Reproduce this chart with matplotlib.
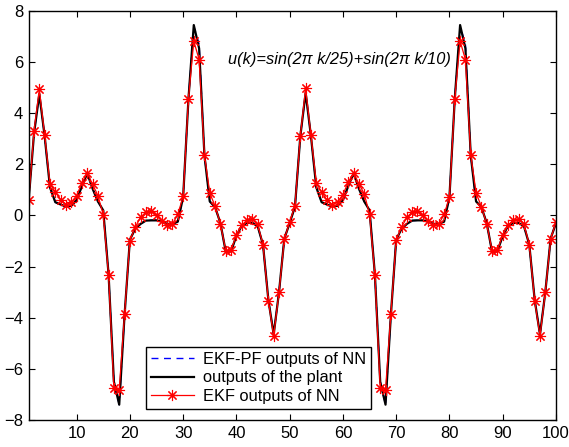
import matplotlib
matplotlib.use("Agg")
import matplotlib.pyplot as plt
import numpy as np

plt.rcParams['font.family'] = ['Liberation Sans', 'DejaVu Sans']

k = list(range(1, 101))

plant = [0.6, 3.2, 4.75, 3.1, 1.1, 0.52, 0.43, 0.35, 0.38, 0.6,
         1.15, 1.65, 1.05, 0.55, 0.2, -2.3, -6.5, -7.4, -3.9, -0.95,
         -0.52, -0.33, -0.2, -0.19, -0.19, -0.24, -0.33, -0.33, -0.24, 0.72,
         4.57, 7.45, 6.54, 2.35, 0.55, 0.33, -0.3, -1.42, -1.4, -0.8,
         -0.4, -0.29, -0.29, -0.42, -1.15, -3.3, -4.65, -3.0, -0.9, -0.3,
         0.35, 3.1, 4.8, 3.1, 1.1, 0.52, 0.43, 0.35, 0.38, 0.6,
         1.15, 1.65, 1.05, 0.55, 0.2, -2.3, -6.5, -7.4, -3.9, -0.95,
         -0.52, -0.33, -0.2, -0.19, -0.19, -0.24, -0.33, -0.33, -0.24, 0.72,
         4.57, 7.45, 6.54, 2.35, 0.55, 0.33, -0.3, -1.42, -1.4, -0.8,
         -0.4, -0.29, -0.29, -0.42, -1.15, -3.3, -4.65, -3.0, -0.9, -0.3]

ekfpf = [0.6, 3.2, 4.75, 3.1, 1.1, 0.52, 0.43, 0.35, 0.38, 0.6,
         1.15, 1.65, 1.05, 0.55, 0.2, -2.3, -6.5, -7.4, -3.9, -0.95,
         -0.52, -0.33, -0.2, -0.19, -0.19, -0.24, -0.33, -0.33, -0.24, 0.72,
         4.57, 7.4, 6.7, 2.35, 0.55, 0.33, -0.3, -1.42, -1.4, -0.8,
         -0.4, -0.29, -0.29, -0.42, -1.15, -3.3, -4.65, -3.0, -0.9, -0.3,
         0.35, 3.1, 4.8, 3.1, 1.1, 0.52, 0.43, 0.35, 0.38, 0.6,
         1.15, 1.65, 1.05, 0.55, 0.2, -2.3, -6.5, -7.4, -3.9, -0.95,
         -0.52, -0.33, -0.2, -0.19, -0.19, -0.24, -0.33, -0.33, -0.24, 0.72,
         4.57, 7.4, 6.7, 2.35, 0.55, 0.33, -0.3, -1.42, -1.4, -0.8,
         -0.4, -0.29, -0.29, -0.42, -1.15, -3.3, -4.65, -3.0, -0.9, -0.3]

ekf = [0.59, 3.31, 4.93, 3.14, 1.24, 0.92, 0.62, 0.42, 0.52, 0.78,
       1.27, 1.66, 1.22, 0.78, 0.03, -2.31, -6.76, -6.82, -3.86, -0.98,
       -0.46, -0.07, 0.13, 0.17, 0.0, -0.2, -0.39, -0.33, 0.04, 0.75,
       4.57, 6.82, 6.1, 2.38, 0.88, 0.37, -0.33, -1.37, -1.35, -0.76,
       -0.39, -0.17, -0.13, -0.35, -1.15, -3.33, -4.71, -3.01, -0.92, -0.26,
       0.39, 3.1, 4.97, 3.14, 1.27, 0.92, 0.6, 0.42, 0.52, 0.82,
       1.3, 1.67, 1.24, 0.85, 0.05, -2.31, -6.76, -6.82, -3.86, -0.96,
       -0.46, -0.07, 0.13, 0.17, 0.0, -0.22, -0.39, -0.33, 0.04, 0.72,
       4.57, 6.82, 6.1, 2.38, 0.88, 0.35, -0.33, -1.37, -1.35, -0.76,
       -0.39, -0.17, -0.13, -0.35, -1.15, -3.33, -4.71, -3.01, -0.92, -0.26]

xticks = [10, 20, 30, 40, 50, 60, 70, 80, 90, 100]
yticks = [-8, -6, -4, -2, 0, 2, 4, 6, 8]
labels = ['EKF-PF outputs of NN', 'outputs of the plant', 'EKF outputs of NN']
annotation = 'u(k)=sin(2\u03c0 k/25)+sin(2\u03c0 k/10)'

fig = plt.figure(figsize=(5.69, 4.47), dpi=100)
ax = fig.add_axes([0.0504, 0.0604, 0.9267, 0.9150])

ax.plot(k, ekfpf, color='#0000ff', linestyle='--', linewidth=1.0, label=labels[0], dashes=(5, 4))
ax.plot(k, plant, color='black', linewidth=1.6, label=labels[1])
ax.plot(k, ekf, color='red', linewidth=0.9, marker=(8, 2, 0), markersize=8,
        markeredgewidth=0.8, label=labels[2])

ax.set_xlim(1, 100)
ax.set_ylim(-8, 8)
ax.set_xticks(xticks)
ax.set_yticks(yticks)
ax.tick_params(direction='in', top=True, right=True, length=4, width=0.8,
               labelsize=12, pad=4)
for s in ax.spines.values():
    s.set_linewidth(1.0)

ax.text(38.5, 6.1, annotation, fontsize=11.8, style='italic', ha='left', va='center')

leg = ax.legend(loc='lower left', bbox_to_anchor=(0.2225, 0.027), borderaxespad=0,
                fontsize=11.8, frameon=True, fancybox=False, framealpha=1,
                edgecolor='black', handlelength=2.6, borderpad=0.3,
                labelspacing=0.22, handletextpad=0.6)
leg.get_frame().set_linewidth(1.0)

fig.savefig('out.png', dpi=100)
